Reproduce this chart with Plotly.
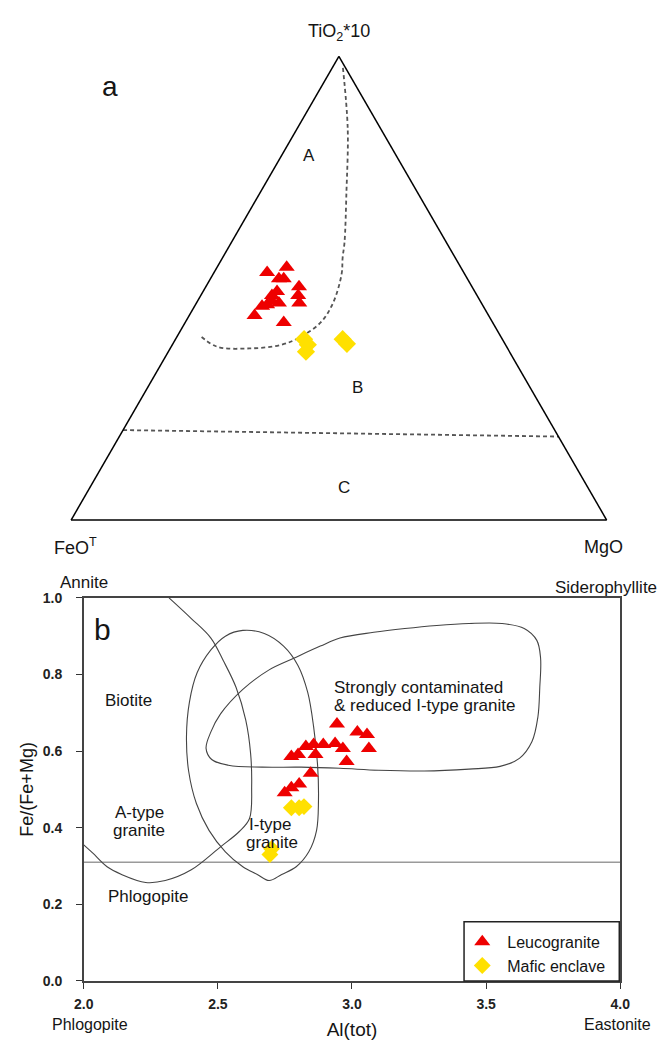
import plotly.graph_objects as go

W, H = 671, 1047
FONT = "Liberation Sans, Arial, sans-serif"

# ---------------- (a) ternary data: TiO2*10 (a), FeOT (b), MgO (c), in % ----------------
leuco_tio2 = [53.4, 54.5, 52.0, 52.0, 50.3, 49.3, 48.4, 48.4, 46.8, 46.4, 46.8, 46.1, 44.1, 42.6, 47.2]
leuco_feo  = [36.7, 32.5, 35.2, 34.3, 32.3, 36.9, 38.3, 33.4, 34.0, 40.2, 37.8, 41.3, 43.7, 39.0, 38.9]
leuco_mgo  = [9.9, 13.0, 12.8, 13.7, 17.4, 13.8, 13.3, 18.2, 19.2, 13.4, 15.4, 12.6, 12.2, 18.4, 13.9]

mafic_tio2 = [39.0, 37.8, 36.3, 39.0, 38.0]
mafic_feo  = [37.0, 36.9, 38.0, 29.8, 29.5]
mafic_mgo  = [24.0, 25.3, 25.7, 31.2, 32.5]

# A/B field boundary (curved, dashed)
ab_tio2 = [97.5, 84.3, 70.4, 59.9, 56.6, 53.0, 46.8, 42.6, 39.5, 37.8, 37.0, 37.4, 39.9]
ab_feo  = [0.5, 6.2, 13.4, 19.0, 21.0, 23.0, 27.7, 32.1, 37.4, 41.8, 48.2, 54.1, 56.1]
ab_mgo  = [2.0, 9.5, 16.2, 21.1, 22.4, 24.0, 25.5, 25.3, 23.1, 20.4, 14.8, 8.5, 4.0]

# B/C field boundary (straight, dashed)
bc_tio2 = [19.4, 18.0]
bc_feo  = [80.6, 0.0]
bc_mgo  = [0.0, 82.0]

# ---------------- (b) Al(tot) vs Fe/(Fe+Mg) ----------------
leuco_al = [2.944, 3.020, 3.056, 3.063, 2.937, 2.966, 2.893, 2.857, 2.828, 2.799,
            2.774, 2.864, 2.980, 2.846, 2.803, 2.774, 2.749]
leuco_fe = [0.671, 0.650, 0.643, 0.607, 0.620, 0.607, 0.617, 0.617, 0.612, 0.591,
            0.586, 0.591, 0.573, 0.542, 0.514, 0.504, 0.491]

mafic_al = [2.774, 2.803, 2.821, 2.694, 2.700]
mafic_fe = [0.452, 0.452, 0.455, 0.330, 0.345]

# Biotite / phlogopite divide
div_x = [2.318, 2.401, 2.474, 2.521, 2.568, 2.604, 2.622, 2.626, 2.618, 2.580,
         2.510, 2.401, 2.304, 2.231, 2.141, 2.087, 2.033, 2.000]
div_y = [1.000, 0.946, 0.895, 0.835, 0.766, 0.681, 0.594, 0.509, 0.424, 0.390,
         0.350, 0.290, 0.262, 0.257, 0.278, 0.298, 0.334, 0.355]

# I-type granite field
itype_x = [2.593, 2.673, 2.745, 2.799, 2.835, 2.857, 2.872, 2.875, 2.868, 2.839, 2.792, 2.738,
           2.691, 2.647, 2.593, 2.528, 2.467, 2.420, 2.391, 2.383, 2.394, 2.423, 2.474, 2.528, 2.593]
itype_y = [0.915, 0.907, 0.874, 0.823, 0.753, 0.663, 0.560, 0.470, 0.393, 0.337, 0.298, 0.278,
           0.262, 0.278, 0.298, 0.337, 0.393, 0.463, 0.548, 0.638, 0.728, 0.805, 0.864, 0.900, 0.915]

# Strongly contaminated & reduced I-type granite field
sc_x = [2.456, 2.474, 2.510, 2.593, 2.691, 2.785, 2.882, 2.955, 3.081, 3.197, 3.316, 3.436, 3.559,
        3.642, 3.689, 3.703, 3.700, 3.693, 3.671, 3.624, 3.552, 3.436, 3.269, 3.099, 2.955, 2.810,
        2.665, 2.539, 2.477, 2.456]
sc_y = [0.607, 0.650, 0.697, 0.761, 0.812, 0.843, 0.874, 0.895, 0.910, 0.920, 0.928, 0.933, 0.933,
        0.920, 0.889, 0.843, 0.766, 0.689, 0.625, 0.581, 0.560, 0.553, 0.548, 0.550, 0.555, 0.558,
        0.558, 0.563, 0.578, 0.607]

hline_x = [2.0, 4.0]
hline_y = [0.31, 0.31]

x_ticks = [2.0, 2.5, 3.0, 3.5, 4.0]
x_ticktext = ["2.0", "2.5", "3.0", "3.5", "4.0"]
y_ticks = [0.0, 0.2, 0.4, 0.6, 0.8, 1.0]
y_ticktext = ["0.0", "0.2", "0.4", "0.6", "0.8", "1.0"]

RED = "#EE0000"
YEL = "#FFE000"
INK = "#151515"

fig = go.Figure()

# ternary traces
dash_style = dict(color="#555555", width=1.8, dash="4px,3px")
fig.add_trace(go.Scatterternary(a=ab_tio2, b=ab_feo, c=ab_mgo, mode="lines", line=dash_style,
                                showlegend=False, hoverinfo="skip", line_shape="spline"))
fig.add_trace(go.Scatterternary(a=bc_tio2, b=bc_feo, c=bc_mgo, mode="lines", line=dash_style,
                                showlegend=False, hoverinfo="skip"))
fig.add_trace(go.Scatterternary(a=leuco_tio2, b=leuco_feo, c=leuco_mgo, mode="markers",
                                marker=dict(symbol="triangle-up", size=14, color=RED),
                                showlegend=False))
fig.add_trace(go.Scatterternary(a=mafic_tio2, b=mafic_feo, c=mafic_mgo, mode="markers",
                                marker=dict(symbol="diamond", size=14, color=YEL),
                                showlegend=False))

# cartesian traces
curve = dict(color="#444444", width=1.1)
fig.add_trace(go.Scatter(x=hline_x, y=hline_y, mode="lines", line=dict(color="#9a9a9a", width=1.5),
                         showlegend=False, hoverinfo="skip"))
fig.add_trace(go.Scatter(x=div_x, y=div_y, mode="lines", line=curve, line_shape="spline",
                         showlegend=False, hoverinfo="skip"))
fig.add_trace(go.Scatter(x=itype_x, y=itype_y, mode="lines", line=curve, line_shape="spline",
                         showlegend=False, hoverinfo="skip"))
fig.add_trace(go.Scatter(x=sc_x, y=sc_y, mode="lines", line=curve, line_shape="spline",
                         showlegend=False, hoverinfo="skip"))
fig.add_trace(go.Scatter(x=leuco_al, y=leuco_fe, mode="markers", name="Leucogranite",
                         marker=dict(symbol="triangle-up", size=14, color=RED)))
fig.add_trace(go.Scatter(x=mafic_al, y=mafic_fe, mode="markers", name="Mafic enclave",
                         marker=dict(symbol="diamond", size=13, color=YEL)))

tern_ax = dict(showline=True, linecolor="black", linewidth=1.5, showgrid=False,
               showticklabels=False, ticks="", title=dict(text=""))

def px(x):
    return x / W

def py(y):
    return 1 - y / H

tickfont = dict(size=14, color="#222222", weight="bold")

fig.update_layout(
    width=W, height=H,
    margin=dict(l=0, r=0, t=0, b=0),
    paper_bgcolor="white", plot_bgcolor="white",
    font=dict(family=FONT, size=16, color=INK),
    ternary=dict(
        sum=100,
        domain=dict(x=[px(63), px(615)], y=[py(534), py(35)]),
        bgcolor="white",
        aaxis=tern_ax, baxis=tern_ax, caxis=tern_ax,
    ),
    xaxis=dict(domain=[px(76), px(629)], range=[2, 4], tickvals=x_ticks, ticktext=x_ticktext,
               ticks="outside", ticklen=6, tickcolor="#333333", showline=True, mirror=True,
               linecolor="#444444", linewidth=1.5, showgrid=False, zeroline=False,
               tickfont=tickfont, ticklabelstandoff=4,
               title=dict(text="Al(tot)", font=dict(size=19, color=INK), standoff=11)),
    yaxis=dict(domain=[py(988), py(599)], range=[0, 1], tickvals=y_ticks, ticktext=y_ticktext,
               ticks="outside", ticklen=6, tickcolor="#333333", showline=True, mirror=True,
               linecolor="#444444", linewidth=1.5, showgrid=False, zeroline=False,
               tickfont=tickfont, ticklabelstandoff=11,
               title=dict(text="Fe/(Fe+Mg)", font=dict(size=18, color=INK), standoff=4)),
    legend=dict(x=px(461), y=py(931), xanchor="left", yanchor="top",
                borderwidth=0, bgcolor="rgba(0,0,0,0)", itemwidth=40,
                font=dict(size=16, color=INK)),
    showlegend=True,
)

# legend frame
fig.add_shape(type="rect", xref="paper", yref="paper",
              x0=px(468), x1=px(628), y0=py(988), y1=py(928),
              line=dict(color="#222222", width=1.5), fillcolor="rgba(0,0,0,0)", layer="above")

def ann(text, x, y, size=17, xanchor="center", **kw):
    fig.add_annotation(text=text, x=px(x), y=py(y), xref="paper", yref="paper",
                       xanchor=xanchor, yanchor="middle", showarrow=False,
                       font=dict(size=size, family=FONT, color=INK), **kw)

# (a) labels
ann("a", 103, 80, size=28)
ann("TiO<sub>2</sub>*10", 339, 25, size=18)
ann("FeO<sup>T</sup>", 68, 547, size=18)
ann("MgO", 612, 547, size=18)
ann("A", 308, 150, size=17)
ann("B", 358, 385, size=17)
ann("C", 344, 487, size=17)

# (b) labels
ann("b", 95, 631, size=30)
ann("Annite", 76, 583, size=17)
ann("Siderophyllite", 614, 588, size=17)
ann("Biotite", 122, 703, size=17)
ann("A-type", 133, 817, size=17)
ann("granite", 133, 835, size=17)
ann("I-type", 268, 829, size=17)
ann("granite", 270, 847, size=17)
ann("Phlogopite", 142, 902, size=17)
ann("Strongly contaminated", 332, 690, size=17, xanchor="left")
ann("&amp; reduced I-type granite", 332, 708, size=17, xanchor="left")
ann("Phlogopite", 82, 1032, size=16)
ann("Eastonite", 626, 1032, size=16)

fig.write_html("out.html")
